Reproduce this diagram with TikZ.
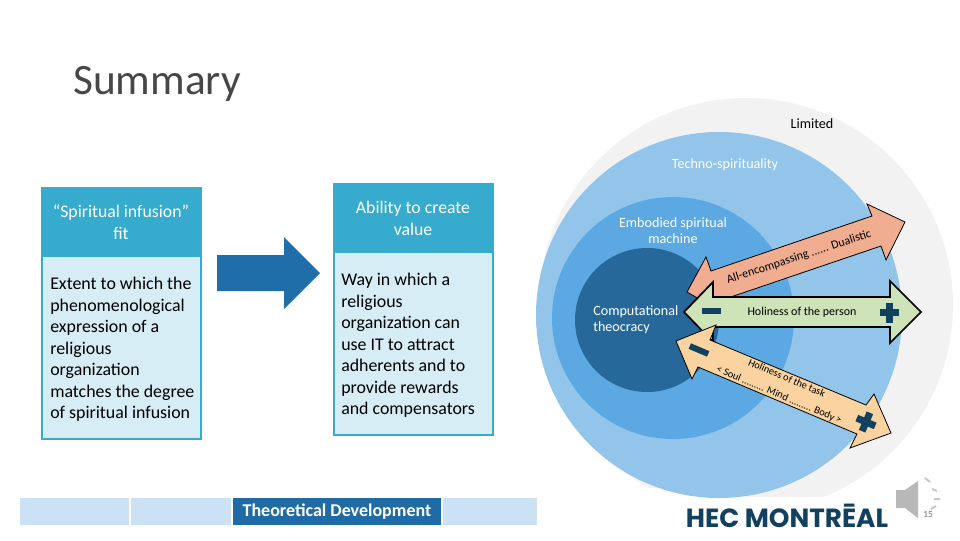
\documentclass[tikz,border=0pt]{standalone}
\usepackage{fontspec}
\setmainfont{Carlito}
\newfontfamily\logofont{Poppins}
\definecolor{headblue}{HTML}{37ABCD}
\definecolor{bodyblue}{HTML}{D7EDF5}
\definecolor{arrowblue}{HTML}{1F6DA9}
\definecolor{tabblue}{HTML}{CBE2F4}
\definecolor{tabdark}{HTML}{1F6BA6}
\definecolor{cOut}{HTML}{F2F2F2}
\definecolor{cTech}{HTML}{93C5EA}
\definecolor{cEmb}{HTML}{5CA8E2}
\definecolor{cComp}{HTML}{27689A}
\definecolor{salmon}{HTML}{F0AD90}
\definecolor{lgreen}{HTML}{CFE3B8}
\definecolor{lorange}{HTML}{FAD3A0}
\definecolor{navy}{HTML}{12405F}
\tikzset{
 headtext/.style={text=white,align=center,inner sep=0pt,font=\fontsize{13.3}{16.5}\selectfont},
 bodybox/.style={fill=bodyblue,draw=headblue,line width=1.5pt},
 bodytext/.style={anchor=north west,align=left,inner sep=0pt,font=\fontsize{13.4}{16.15}\selectfont,text=black},
 lbl/.style={inner sep=0pt,align=center,font=\fontsize{10.6}{12}\selectfont},
 tabcell/.style={fill=tabblue,draw=none},
 signmark/.style={fill=navy,draw=none}
}
\begin{document}
\begin{tikzpicture}[x=0.75pt,y=-0.75pt]
\useasboundingbox (0,0) rectangle (960,540);
\fill[white] (0,0) rectangle (960,540);
\node[anchor=west,inner sep=0pt,text=black!72,font=\fontsize{32.5}{34}\selectfont] (title) at (73,84) {Summary};
% left boxes
\draw[bodybox] (42,188) rectangle (201,439);
\fill[headblue] (41,187) rectangle (202,257);
\node[headtext] (h1) at (121,222) {“Spiritual infusion”\\fit};
\node[bodytext] (b1) at (50,277) {Extent to which the\\phenomenological\\expression of a\\religious\\organization\\matches the degree\\of spiritual infusion};
\draw[bodybox] (334,184) rectangle (493,435);
\fill[headblue] (333,183) rectangle (494,253);
\node[headtext] (h2) at (413,218) {Ability to create\\value};
\node[bodytext] (b2) at (341,273) {Way in which a\\religious\\organization can\\use IT to attract\\adherents and to\\provide rewards\\and compensators};
% big arrow
\fill[arrowblue] (217,255) -- (284,255) -- (284,237) -- (320,273) -- (284,309) -- (284,291) -- (217,291) -- cycle;
% tabs
\fill[tabcell] (20,498) rectangle (129,525);
\fill[tabcell] (131,498) rectangle (231,525);
\fill[tabdark] (233,498) rectangle (441,525);
\fill[tabcell] (443,498) rectangle (537,525);
\node[text=white,inner sep=0pt,font=\bfseries\fontsize{13.5}{14}\selectfont] (tabtext) at (337,511.5) {Theoretical Development};
% circles
\fill[cOut] (746,305) circle (207);
\fill[white] (684,497) rectangle (895,535);
\fill[white] (630,488) rectangle (745,535);
\fill[cTech] (719,315) circle (183);
\fill[cEmb] (673,318) circle (121);
\fill[cComp] (647,320) circle (72);
\node[lbl] (limited) at (812,124) {Limited};
\node[lbl,text=white] (techno) at (725,165) {Techno-spirituality};
\node[lbl,text=white] (emb) at (673,231) {Embodied spiritual\\machine};
\node[lbl,text=white,align=left,anchor=west] (comp) at (593,320) {Computational\\theocracy};
% salmon arrow
\draw[fill=salmon,line width=0.6pt] (687,292) -- (706,257) -- (711,271) -- (872,216) -- (867,204) -- (905,222) -- (886,260) -- (881,246) -- (716,302) -- (722,312) -- cycle;
\node[rotate=18,inner sep=0pt,font=\fontsize{9}{10}\selectfont] (salmonlabel) at (799,257) {All-encompassing ...... Dualistic};
% green arrow
\draw[fill=lgreen,line width=1.3pt] (684,312) -- (713,282) -- (713,297) -- (890,297) -- (890,281) -- (921,312) -- (890,343) -- (890,327) -- (713,327) -- (713,342) -- cycle;
\fill[signmark] (702,308) rectangle (721,314);
\fill[signmark] (880,309) rectangle (899,316);
\fill[signmark] (886,303) rectangle (893,323);
\node[inner sep=0pt,font=\fontsize{9}{10}\selectfont] (green) at (802,312) {Holiness of the person};
% orange arrow
\draw[fill=lorange,line width=0.6pt] (676,341) -- (716,325) -- (710,340) -- (866,405) -- (874,394) -- (891,433) -- (850,448) -- (857,434) -- (698,367) -- (692,379) -- cycle;
\node[rotate=-23,inner sep=0pt,font=\fontsize{7.8}{10}\selectfont] (orange1) at (787,378) {Holiness of the task};
\node[rotate=-23,inner sep=0pt,font=\fontsize{7.8}{10}\selectfont] (orange2) at (779,395) {< Soul ......... Mind ......... Body >};
\begin{scope}[shift={(699,350)},rotate=-23]
\fill[signmark] (-10,-3) rectangle (10,3);
\end{scope}
\begin{scope}[shift={(866,422)},rotate=-23]
\fill[signmark] (-10,-3.5) rectangle (10,3.5);
\fill[signmark] (-3.5,-10) rectangle (3.5,10);
\end{scope}
% logo
\node[inner sep=0pt,text=navy,font=\logofont\bfseries\fontsize{19.7}{22}\selectfont] (logo) at (787,516) {HEC MONTRĒAL};
% speaker
\fill[black!28] (896,490) -- (905,490) -- (918,481) -- (918,518) -- (905,508) -- (896,508) -- cycle;
\draw[black!22,line width=1.5pt] (925,478) -- (930,482) (932,489) -- (937,491) (934,499) -- (940,499) (931,509) -- (936,506);
\node[inner sep=0pt,text=black!55,font=\fontsize{7}{8}\selectfont] (pagenum) at (928,515) {15};
\end{tikzpicture}
\end{document}
